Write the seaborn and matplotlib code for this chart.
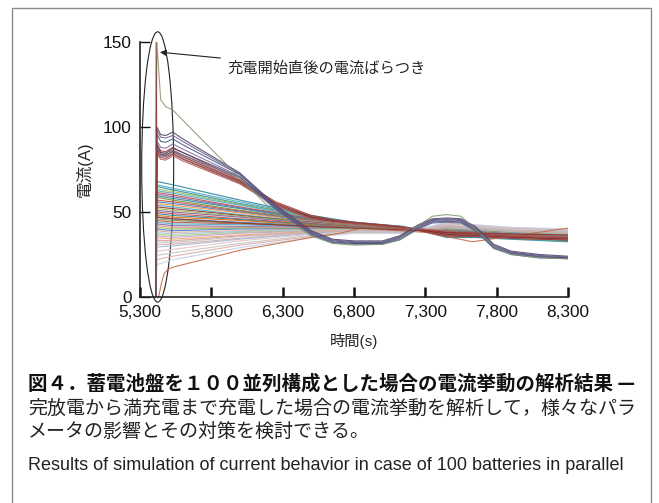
import matplotlib
matplotlib.use("Agg")
import matplotlib.pyplot as plt
from matplotlib.patches import Ellipse, Rectangle
import pandas as pd
import seaborn as sns

# ---- values (time in s, current in A) ----
t_start = 5410
i_start = 0.0

# main band: 40 batteries, one list per time step (index 0 = highest start)
band_times = [5418, 5530, 6000, 6500, 6800, 7150, 7450, 7650, 7900, 8300]
band_t5418 = [68, 66, 65, 63.5, 62.5, 61.5, 60.5, 59.5, 58.5, 57, 56, 55, 54, 53, 52, 51, 50, 49, 48, 47,
              46, 45, 44, 43, 42, 41, 40, 39, 38, 37, 36, 35, 33.5, 32.5, 31, 29.5, 27, 24.5, 22, 19]
band_t5530 = [66, 64, 63, 62, 61, 60, 59, 58, 57, 56, 55, 54, 53, 52, 51, 50, 49, 48, 47, 46,
              45, 44, 43, 42, 41, 40, 39, 38, 37, 36, 35, 34, 33, 32, 31, 30, 28, 26, 24, 22]
band_t6000 = [57, 56, 55, 54.5, 54, 53, 52.5, 52, 51, 50.5, 50, 49.5, 48.5, 48, 47.5, 47, 46, 45.5, 45, 44,
              43.5, 43, 42.5, 41.5, 41, 40.5, 40, 39, 38.5, 38, 37.5, 36.5, 36, 35.5, 34.5, 34, 33, 31.5, 30.5, 29]
band_t6500 = [48, 47.4, 47.1, 46.8, 46.5, 46.2, 45.9, 45.6, 45.3, 45, 44.7, 44.4, 44.1, 43.9, 43.6, 43.3, 43, 42.7, 42.4, 42.1,
              41.8, 41.5, 41.2, 40.9, 40.6, 40.3, 40, 39.7, 39.4, 39.1, 38.8, 38.5, 38.2, 37.9, 37.7, 37.4, 36.8, 36.2, 35.6, 35]
band_t6800 = [44, 43.7, 43.6, 43.4, 43.3, 43.1, 43, 42.8, 42.7, 42.5, 42.4, 42.2, 42.1, 41.9, 41.8, 41.6, 41.5, 41.3, 41.2, 41,
              40.9, 40.8, 40.6, 40.5, 40.3, 40.2, 40, 39.9, 39.7, 39.6, 39.4, 39.3, 39.1, 39, 38.8, 38.7, 38.4, 38.1, 37.8, 37.5]
band_t7150 = [41.5, 41.3, 41.2, 41.1, 41, 41, 40.9, 40.8, 40.7, 40.6, 40.5, 40.4, 40.3, 40.2, 40.1, 40, 40, 39.9, 39.8, 39.7,
              39.6, 39.5, 39.4, 39.3, 39.2, 39.1, 39, 38.9, 38.9, 38.8, 38.7, 38.6, 38.5, 38.4, 38.3, 38.2, 38, 37.9, 37.7, 37.5]
band_t7450 = [35, 35.4, 35.6, 35.8, 36, 36.2, 36.4, 36.6, 36.8, 37, 37.3, 37.5, 37.7, 37.9, 38.1, 38.3, 38.5, 38.7, 38.9, 39.1,
              39.3, 39.5, 39.7, 39.9, 40.1, 40.3, 40.5, 40.7, 40.9, 41.1, 41.3, 41.5, 41.8, 42, 42.2, 42.4, 42.8, 43.2, 43.6, 44]
band_t7650 = [35, 35.4, 35.5, 35.7, 35.9, 36, 36.2, 36.4, 36.5, 36.7, 36.9, 37.1, 37.2, 37.4, 37.6, 37.7, 37.9, 38.1, 38.2, 38.4,
              38.6, 38.8, 38.9, 39.1, 39.3, 39.4, 39.6, 39.8, 39.9, 40.1, 40.3, 40.5, 40.6, 40.8, 41, 41.1, 41.5, 41.8, 42.2, 42.5]
band_t7900 = [34, 34.3, 34.5, 34.6, 34.8, 35, 35.1, 35.3, 35.4, 35.6, 35.8, 35.9, 36.1, 36.2, 36.4, 36.5, 36.7, 36.9, 37, 37.2,
              37.3, 37.5, 37.7, 37.8, 38, 38.1, 38.3, 38.5, 38.6, 38.8, 38.9, 39.1, 39.3, 39.4, 39.6, 39.7, 40, 40.4, 40.7, 41]
band_t8300 = [32.5, 32.8, 33, 33.2, 33.4, 33.5, 33.7, 33.9, 34, 34.2, 34.4, 34.6, 34.7, 34.9, 35.1, 35.2, 35.4, 35.6, 35.7, 35.9,
              36.1, 36.3, 36.4, 36.6, 36.8, 36.9, 37.1, 37.3, 37.4, 37.6, 37.8, 38, 38.1, 38.3, 38.5, 38.6, 39, 39.3, 39.7, 40]

# high starting batteries
hi_times = [5418, 5445, 5480, 5530, 5600, 6000, 6250, 6500, 6650, 6800, 7000,
            7120, 7250, 7350, 7450, 7550, 7650, 7780, 7900, 8100, 8300]
green_line = [150, 116, 112, 110, 104, 70, 49, 36, 31.5, 30.5, 31, 34, 42, 47.5, 48.5, 47.5, 40, 30, 25, 23, 22.5]
purple_lines = [
    [100, 95.5, 95, 97, 93, 73, 54, 39, 34, 33, 33, 36, 42.5, 46, 46.5, 46, 41.5, 31, 27, 25, 24],
    [98, 94, 93.5, 95, 91.5, 72.5, 53.5, 38.5, 33.5, 32.5, 32.5, 35.5, 42, 45.5, 46, 45.5, 41, 30.5, 26.5, 24.5, 23.5],
    [96, 91.5, 91, 93, 89.5, 72, 53, 38, 33, 32, 32, 35, 41.5, 45, 45.5, 45, 40.5, 30, 26, 24, 23],
    [92, 88, 87.5, 90, 87, 71, 52.5, 37.5, 32.5, 31.5, 31.5, 34.5, 41, 44.5, 45, 44.5, 40, 29.5, 26, 24, 23.5],
    [90, 85, 84.5, 87.5, 85, 70.5, 52, 37, 32, 31.5, 31.5, 34, 40.5, 44, 44.5, 44, 39.5, 29, 25.5, 23.5, 23],
    [88, 83.5, 83, 86, 83.5, 70, 51.5, 36.5, 32, 31, 31, 33.5, 40, 43.5, 44, 43.5, 39, 28.5, 25, 23, 22.5],
]
red_lines = [
    [90, 86, 85.5, 88, 85, 69, 56, 48, 45.5, 44, 42.5, 41.5, 39.5, 37.5, 36, 35.5, 35.5, 35, 34.5, 34, 33.5],
    [88, 85, 84.5, 86.5, 83.5, 68.5, 55.5, 47.5, 45.2, 43.8, 42.3, 41.3, 39.7, 38, 36.5, 36, 36, 35.4, 35, 34.5, 34],
    [87, 84, 83.5, 85.5, 82.5, 68, 55, 47, 44.9, 43.6, 42.1, 41.1, 39.9, 38.4, 37, 36.5, 36.4, 35.8, 35.3, 34.8, 34.3],
    [86, 83, 82.5, 84.5, 81.5, 67.5, 54.5, 46.5, 44.6, 43.4, 41.9, 40.9, 40, 38.8, 37.5, 37, 36.8, 36.1, 35.6, 35.1, 34.6],
    [85, 82, 81.5, 84, 81, 67, 54, 46.5, 44.3, 43.2, 41.7, 40.7, 40.1, 39.2, 38, 37.5, 37.2, 36.4, 35.9, 35.4, 34.9],
    [84, 81, 80.5, 83, 80, 66.5, 53.5, 46, 44, 43, 41.5, 40.5, 40.2, 39.5, 38.5, 38, 37.5, 36.7, 36.2, 35.7, 35.2],
]

# lowest battery and the one with the tallest inrush spike
low_times = [5430, 5450, 5470, 5500, 5530, 6000, 6500, 6700, 6850, 7300, 7630, 8300]
low_line = [0, 8, 14, 16.5, 17.5, 27.5, 35, 37.5, 40.5, 38, 32.5, 40.5]
spike_times = [5410, 5413, 5420, 5530, 6000, 6500, 6800, 7150, 7450, 7650, 7900, 8300]
spike_line = [0, 150, 47, 46, 43.5, 41.5, 40.5, 39.5, 38, 37.5, 37, 36.5]

x_ticks = [5300, 5800, 6300, 6800, 7300, 7800, 8300]
x_tick_labels = ["5,300", "5,800", "6,300", "6,800", "7,300", "7,800", "8,300"]
y_ticks = [0, 50, 100, 150]

band_colors = [
    '#31859c', '#4bacc6', '#2f8f9d', '#9bbb59', '#4bacc6', '#c0504d', '#8064a2', '#31859c', '#76923c', '#c0504d',
    '#4f81bd', '#f79646', '#4bacc6', '#953735', '#9bbb59', '#8064a2', '#c0504d', '#31859c', '#e46c0a', '#4f81bd',
    '#76923c', '#c0504d', '#4bacc6', '#8064a2', '#d99694', '#9bbb59', '#4f81bd', '#d8a3a1', '#9fc8d4', '#b3c98a',
    '#b9aacb', '#f0ac7a', '#d8a3a1', '#c2c2c2', '#dca9a8', '#a5bcdb', '#e3c4c3', '#c6c6c6', '#dcaeae', '#c5d3e6']
purple_colors = ['#4a3b63', '#6b5a8a', '#3c4f7a', '#7a6597', '#52456b', '#5b6e96']
red_colors = ['#953735', '#c0504d', '#632523', '#a5514f', '#8c3a3a', '#b65c5a']

# ---- long tables for seaborn ----
band_cols = [band_t5418, band_t5530, band_t6000, band_t6500, band_t6800,
             band_t7150, band_t7450, band_t7650, band_t7900, band_t8300]
band_rows, band_pal = [], {}
for i in range(len(band_t5530)):
    name = f"b{i:02d}"
    band_pal[name] = band_colors[i]
    band_rows.append((name, t_start, i_start))
    for t, col in zip(band_times, band_cols):
        band_rows.append((name, t, col[i]))
df_band = pd.DataFrame(band_rows, columns=["battery", "time", "current"])

rows, pal = [], {}
def add(name, times, values, color, start=True):
    pal[name] = color
    if start:
        rows.append((name, t_start, i_start))
    for t, v in zip(times, values):
        rows.append((name, t, v))

add("low", low_times, low_line, '#c3623a', start=False)
for i, v in enumerate(red_lines):
    add(f"r{i}", hi_times, v, red_colors[i])
for i, v in enumerate(purple_lines):
    add(f"p{i}", hi_times, v, purple_colors[i])
add("green", hi_times, green_line, '#7c9670')
add("spike", spike_times, spike_line, '#8e2f2d', start=False)
df_main = pd.DataFrame(rows, columns=["battery", "time", "current"])

# ---- figure ----
sns.set_style("ticks")
plt.rcParams['font.family'] = ['Liberation Sans', 'Noto Sans CJK JP', 'DejaVu Sans']

fig = plt.figure(figsize=(6.59, 5.03), dpi=100)
ax = fig.add_axes([140 / 659, 206 / 503, 428 / 659, 255 / 503])

sns.lineplot(data=df_band, x="time", y="current", hue="battery", palette=band_pal,
             estimator=None, sort=False, legend=False, lw=0.85, alpha=0.9, ax=ax)
sns.lineplot(data=df_main, x="time", y="current", hue="battery", palette=pal,
             estimator=None, sort=False, legend=False, lw=0.8, alpha=0.85, ax=ax)

ax.set_xlim(5300, 8300)
ax.set_ylim(0, 150)
ax.set_xticks(x_ticks)
ax.set_xticklabels(x_tick_labels)
ax.set_yticks(y_ticks)
ax.tick_params(axis='x', direction='in', length=7, width=1.8, pad=6, labelsize=12.4, colors='#111')
ax.tick_params(axis='y', direction='in', length=7, width=1.0, pad=6, labelsize=12.4, colors='#111')
sns.despine(ax=ax)
for s in ['left', 'bottom']:
    ax.spines[s].set_linewidth(1.2)
    ax.spines[s].set_color('#222')

ax.set_xlabel("時間(s)", fontsize=11, labelpad=9)
ax.set_ylabel("電流(A)", fontsize=12, labelpad=7)

# annotation: ellipse around the inrush and callout
ax.add_patch(Ellipse((5424, 76.5), 224, 159, fill=False, ec='#222', lw=0.8, clip_on=False))
ax.annotate("充電開始直後の電流ばらつき", xy=(5440, 144), xytext=(5915, 134.5),
            fontsize=11, va='center', ha='left',
            arrowprops=dict(arrowstyle='-|>', color='#222', lw=0.8, mutation_scale=9,
                            shrinkA=3, shrinkB=0))

# outer frame
fig.patches.append(Rectangle((12 / 659, -0.02), (651 - 12) / 659, 1.004, transform=fig.transFigure,
                             fill=False, ec='#8c8c8c', lw=1.0))

# caption
jp = ['Noto Sans CJK JP', 'DejaVu Sans']
fig.text(28 / 659, 1 - 384 / 503, "図４．蓄電池盤を１００並列構成とした場合の電流挙動の解析結果 —",
         fontsize=14.0, fontweight='bold', family=jp, va='center', color='#111')
fig.text(28 / 659, 1 - 408 / 503, "完放電から満充電まで充電した場合の電流挙動を解析して，様々なパラ",
         fontsize=13.7, family=jp, va='center', color='#222')
fig.text(28 / 659, 1 - 432 / 503, "メータの影響とその対策を検討できる。",
         fontsize=13.7, family=jp, va='center', color='#222')
fig.text(28 / 659, 1 - 466 / 503, "Results of simulation of current behavior in case of 100 batteries in parallel",
         fontsize=13.0, family=['Liberation Sans'], va='center', color='#222')

fig.savefig("out.png", dpi=100)
